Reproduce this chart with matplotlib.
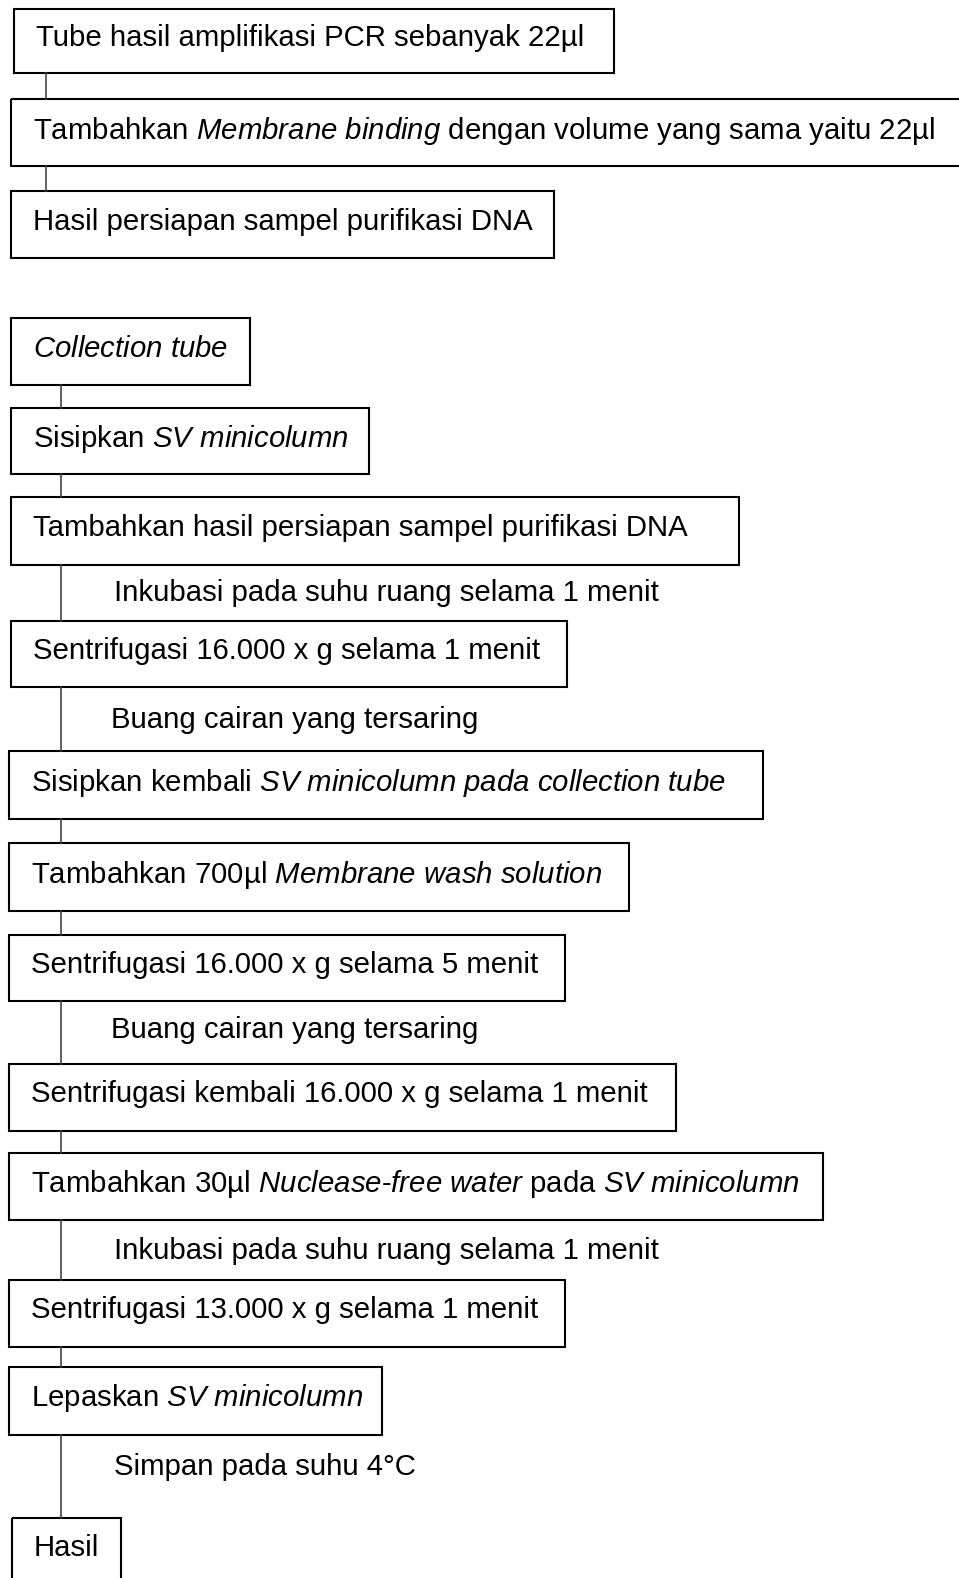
import matplotlib
matplotlib.use("Agg")
import matplotlib.pyplot as plt
from matplotlib.patches import Rectangle

plt.rcParams['font.family'] = ['Liberation Sans', 'DejaVu Sans']
plt.rcParams['mathtext.fontset'] = 'custom'
plt.rcParams['mathtext.rm'] = 'Liberation Sans'
plt.rcParams['mathtext.it'] = 'Liberation Sans:italic'

# step texts ($...$ parts are italic)
steps = [
    "Tube hasil amplifikasi PCR sebanyak 22µl",
    r"Tambahkan $\mathit{Membrane\ binding}$ dengan volume yang sama yaitu 22µl",
    "Hasil persiapan sampel purifikasi DNA",
    r"$\mathit{Collection\ tube}$",
    r"Sisipkan $\mathit{SV\ minicolumn}$",
    "Tambahkan hasil persiapan sampel purifikasi DNA",
    "Sentrifugasi 16.000 x g selama 1 menit",
    r"Sisipkan kembali $\mathit{SV\ minicolumn\ pada\ collection\ tube}$",
    r"Tambahkan 700µl $\mathit{Membrane\ wash\ solution}$",
    "Sentrifugasi 16.000 x g selama 5 menit",
    "Sentrifugasi kembali 16.000 x g selama 1 menit",
    r"Tambahkan 30µl $\mathit{Nuclease\text{-}free\ water}$ pada $\mathit{SV\ minicolumn}$",
    "Sentrifugasi 13.000 x g selama 1 menit",
    r"Lepaskan $\mathit{SV\ minicolumn}$",
    "Hasil",
]

# notes written beside a connector (after step index)
note_after = [5, 6, 9, 11, 13]
note_text = [
    "Inkubasi pada suhu ruang selama 1 menit",
    "Buang cairan yang tersaring",
    "Buang cairan yang tersaring",
    "Inkubasi pada suhu ruang selama 1 menit",
    "Simpan pada suhu 4°C",
]

# layout in pixels: box left, right, top, bottom
box_left = [14, 11, 11, 11, 11, 11, 11, 9, 9, 9, 9, 9, 9, 9, 12]
box_right = [614, 962, 554, 250, 369, 739, 567, 763, 629, 565, 676, 823, 565, 382, 121]
box_top = [9, 99, 191, 318, 408, 497, 621, 751, 843, 935, 1064, 1153, 1280, 1367, 1518]
box_bot = [73, 166, 258, 385, 474, 565, 687, 819, 911, 1001, 1131, 1220, 1347, 1435, 1600]
line_x = [46, 46, None, 61, 61, 61, 61, 61, 61, 61, 61, 61, 61, 61]
note_x = [114, 111, 111, 114, 114]
note_y = [590, 717, 1027, 1248, 1464]

W, H = 959, 1578
fig = plt.figure(figsize=(W / 100, H / 100), dpi=100)
ax = fig.add_axes([0, 0, 1, 1])
ax.set_xlim(0, W)
ax.set_ylim(H, 0)
ax.axis('off')

fs = 21.2
for i, txt in enumerate(steps):
    x0, x1, y0, y1 = box_left[i], box_right[i], box_top[i], box_bot[i]
    ax.add_patch(Rectangle((x0, y0), x1 - x0, y1 - y0, fill=False,
                           edgecolor='black', linewidth=1.5))
    yc = (y0 + min(y1, box_top[i] + 67)) / 2 - 6
    ax.text(x0 + 22, yc, txt, fontsize=fs, va='center_baseline', ha='left')

for i in range(len(steps) - 1):
    if line_x[i] is None:
        continue
    ax.plot([line_x[i], line_x[i]], [box_bot[i], box_top[i + 1]],
            color='#444444', linewidth=1.2)

for k in range(len(note_text)):
    ax.text(note_x[k], note_y[k], note_text[k], fontsize=fs,
            va='center_baseline', ha='left')

fig.savefig('out.png', dpi=100)
